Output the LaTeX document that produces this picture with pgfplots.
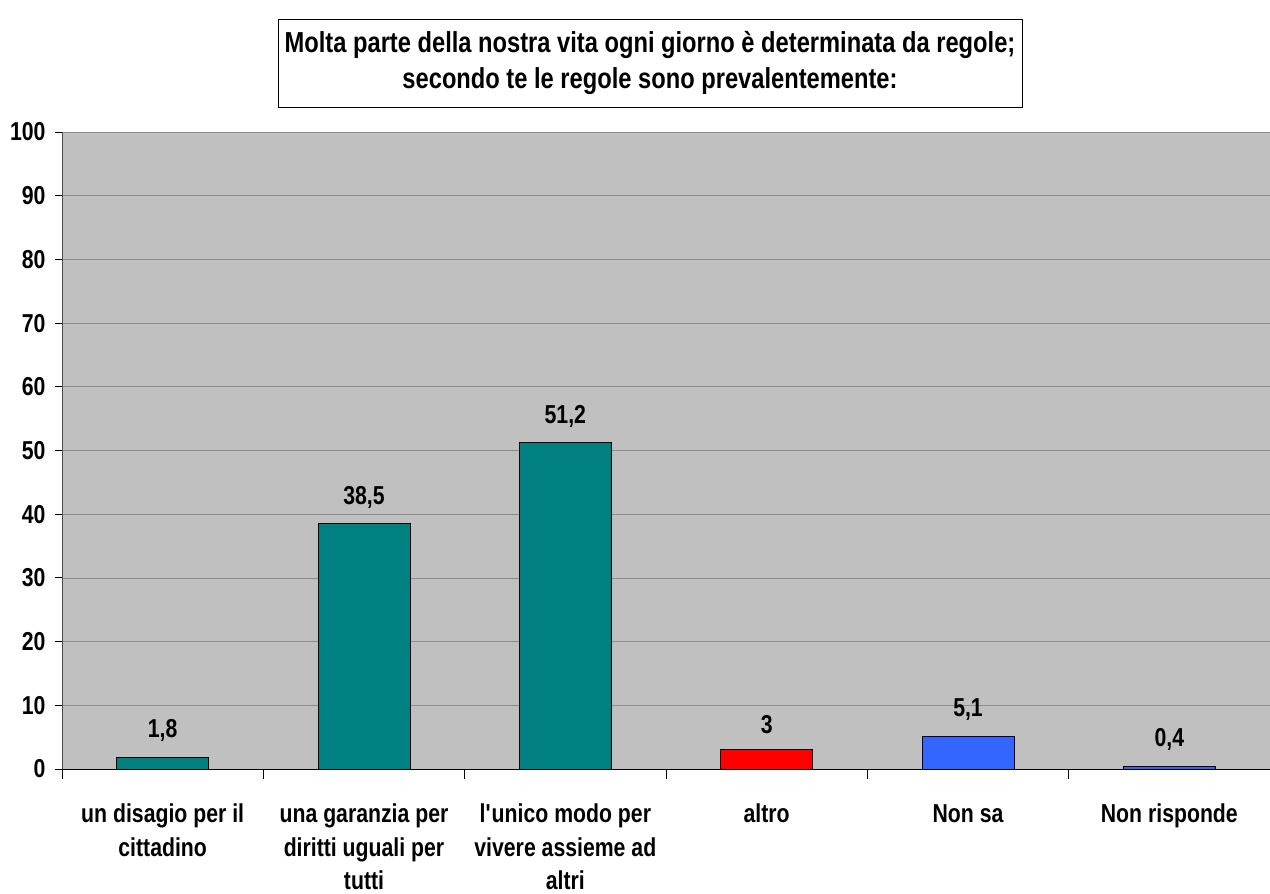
\documentclass[border=0pt]{standalone}
\usepackage{fontspec}
\setmainfont{Liberation Sans}[FakeStretch=0.82]
\usepackage{pgfplots}
\pgfplotsset{compat=1.18}
\definecolor{bgray}{HTML}{C0C0C0}
\definecolor{myteal}{HTML}{008080}
\definecolor{myred}{HTML}{FF0000}
\definecolor{myblue}{HTML}{3366FF}
\definecolor{gridc}{HTML}{8C8C8C}
\begin{document}
\begin{tikzpicture}[x=1bp,y=1bp]
\useasboundingbox (0,0) rectangle (1270,894);
\begin{axis}[
  at={(62bp,125bp)}, anchor=south west,
  scale only axis, width=1208bp, height=637bp,
  xmin=-0.5, xmax=5.5, ymin=0, ymax=100,
  ytick={0,10,...,100},
  xtick={0,...,5},
  xticklabels={{\strut un disagio per il\\cittadino},{\strut una garanzia per\\diritti uguali per\\tutti},{\strut l\textquotesingle unico modo per\\vivere assieme ad\\altri},{\strut altro},{\strut Non sa},{\strut Non risponde}},
  minor xtick={-0.5,0.5,...,5.5},
  xtick style={draw=none},
  minor x tick style={draw=black, line width=0.8pt},
  ytick style={draw=black, line width=0.8pt},
  tick align=outside,
  major tick length=7bp,
  minor tick length=10bp,
  axis x line*=bottom, axis y line*=left,
  x axis line style={black, line width=0.8pt},
  y axis line style={black!70, line width=0.8pt},
  axis background/.style={fill=bgray},
  ymajorgrids, grid style={gridc, line width=0.6pt},
  /pgf/number format/assume math mode=true,
  tick label style={font=\bfseries\fontsize{26}{34}\selectfont},
  xticklabel style={align=center, yshift=-19bp},
  yticklabel style={xshift=-6bp},
  ybar, bar width=92bp, bar shift=0pt,
  point meta=explicit symbolic,
  nodes near coords,
  every node near coord/.append style={font=\bfseries\fontsize{26}{34}\selectfont, black, yshift=12bp},
  clip=false,
]
\addplot[fill=myteal, draw=black, line width=0.8pt] coordinates {(0,1.8) [1,8] (1,38.5) [38,5] (2,51.2) [51,2]};
\addplot[fill=myred, draw=black, line width=0.8pt] coordinates {(3,3) [3]};
\addplot[fill=myblue, draw=black, line width=0.8pt] coordinates {(4,5.1) [5,1] (5,0.4) [0,4]};
\end{axis}
\node[draw=black, line width=0.6pt, align=center, minimum width=744bp, minimum height=88bp, font=\bfseries\fontsize{29}{37}\selectfont] at (650,831) {Molta parte della nostra vita ogni giorno è determinata da regole;\\secondo te le regole sono prevalentemente:};
\end{tikzpicture}
\end{document}
